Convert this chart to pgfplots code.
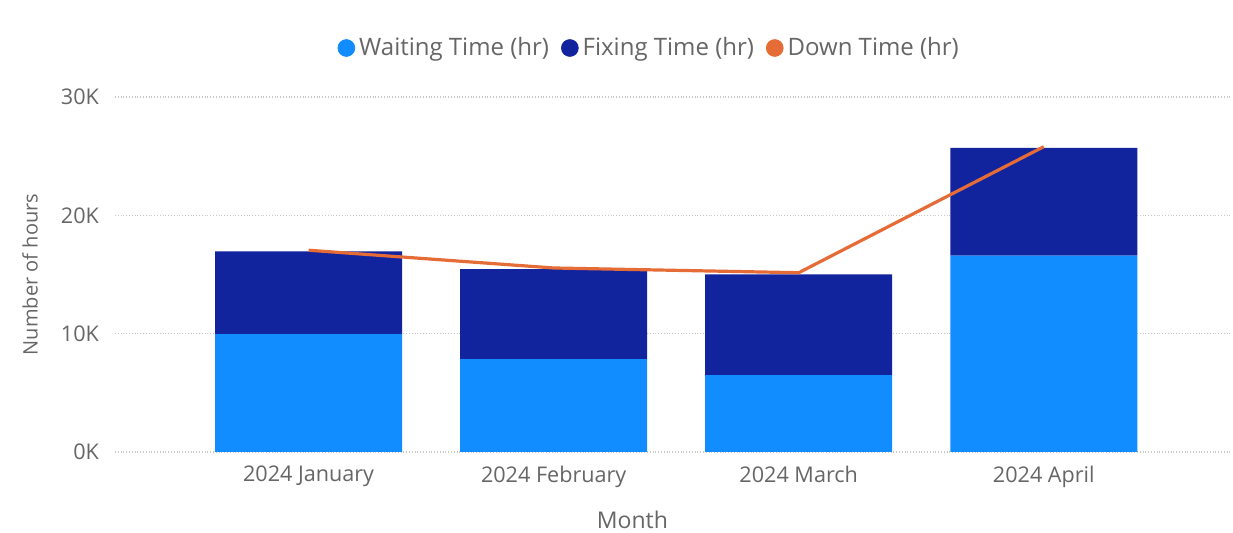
\documentclass[border=0pt]{standalone}
\usepackage{fontspec}
\setmainfont{Open Sans}
\usepackage{pgfplots}
\pgfplotsset{compat=1.18}
\definecolor{cwait}{HTML}{118DFF}
\definecolor{cfix}{HTML}{12239E}
\definecolor{cdown}{HTML}{E66C37}
\definecolor{ctext}{HTML}{666666}
\definecolor{cgrid}{HTML}{C8C8C8}
\begin{document}
\begin{tikzpicture}[x=1pt,y=1pt]
\path[use as bounding box, fill=white] (0,0) rectangle (616.5,266.5);
\begin{axis}[at={(57.5pt,40.5pt)}, anchor=south west, scale only axis,
  width=557.5pt, height=177.5pt,
  xmin=-0.79, xmax=3.76, ymin=0, ymax=30000,
  ybar stacked, bar width=93.5pt,
  axis line style={draw=none}, tick style={draw=none},
  ymajorgrids, grid style={cgrid, densely dotted, line width=0.8pt},
  ytick={0,10000,20000,30000}, yticklabels={0K,10K,20K,30K},
  scaled y ticks=false,
  xtick={0,1,2,3},
  xticklabels={2024 January,2024 February,2024 March,2024 April},
  ticklabel style={font=\fontsize{10.8}{12}\selectfont, text=ctext},
  yticklabel style={xshift=-4.5pt},
  xticklabel style={yshift=-3.5pt},
  xlabel={Month}, ylabel={Number of hours},
  label style={text=ctext},
  xlabel style={font=\fontsize{11.5}{13}\selectfont, at={(axis description cs:0.464,-0.1915)}, anchor=center},
  ylabel style={font=\fontsize{10}{12}\selectfont, at={(axis description cs:-0.0762,0.5)}, anchor=center},
]
\addplot[fill=cwait, draw=none] coordinates {(0,9950) (1,7850) (2,6500) (3,16600)};
\addplot[fill=cfix, draw=none] coordinates {(0,7000) (1,7600) (2,8500) (3,9100)};
\end{axis}
\begin{axis}[at={(57.5pt,40.5pt)}, anchor=south west, scale only axis,
  width=557.5pt, height=177.5pt,
  xmin=-0.79, xmax=3.76, ymin=0, ymax=30000, hide axis,
  legend columns=3,
  legend style={draw=none, fill=none, at={(0.48,1.138)}, anchor=center,
    font=\fontsize{12}{14}\selectfont, text=ctext,
    /tikz/every even column/.append style={column sep=4pt}},
  legend cell align=left,
]
\addlegendimage{legend image code/.code={\fill[cwait] (3pt,0pt) circle (4.2pt);}}
\addlegendentry{Waiting Time (hr)}
\addlegendimage{legend image code/.code={\fill[cfix] (3pt,0pt) circle (4.2pt);}}
\addlegendentry{Fixing Time (hr)}
\addlegendimage{legend image code/.code={\fill[cdown] (3pt,0pt) circle (4.2pt);}}
\addlegendentry{Down Time (hr)}
\addplot[cdown, line width=1.6pt, sharp plot, mark=none, forget plot] coordinates {(0,17050) (1,15550) (2,15150) (3,25800)};
\end{axis}
\end{tikzpicture}
\end{document}
